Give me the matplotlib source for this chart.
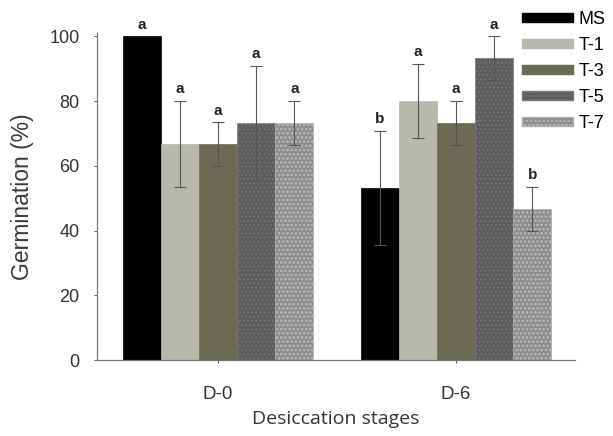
import numpy as np
import matplotlib.pyplot as plt
from matplotlib.patches import Patch

# Germination data per desiccation stage
stages = ["D-0", "D-6"]
treatments = ["MS", "T-1", "T-3", "T-5", "T-7"]
mean_d0 = [100.0, 66.7, 66.7, 73.3, 73.3]
mean_d6 = [53.3, 80.0, 73.3, 93.3, 46.7]
err_d0 = [0.0, 13.3, 6.7, 17.6, 6.7]
err_d6 = [17.6, 11.5, 6.7, 6.7, 6.7]
letters_d0 = ["a", "a", "a", "a", "a"]
letters_d6 = ["b", "a", "a", "a", "b"]

colors = ["#000000", "#b9b8ad", "#6a6b52", "#5e5e60", "#8c8c8c"]
hatches = [None, None, None, "....", "oooo"]
hatch_cols = [None, None, None, "#7a7a7c", "#b0b0b0"]

plt.rcParams['font.family'] = ['Liberation Sans', 'DejaVu Sans']
plt.rcParams['hatch.linewidth'] = 0.6

fig = plt.figure(figsize=(6.13, 4.36), dpi=100)
ax = fig.add_axes([0.158, 0.174, 0.78, 0.75])

x = np.arange(len(stages))
w = 0.16
means = np.array([mean_d0, mean_d6])
errs = np.array([err_d0, err_d6])
letters = [letters_d0, letters_d6]

for i, t in enumerate(treatments):
    xs = x + (i - 2) * w
    bars = ax.bar(xs, means[:, i], w, color=colors[i], edgecolor=colors[i],
                  linewidth=0.5, label=t, zorder=2)
    if hatches[i]:
        for b in bars:
            b.set_hatch(hatches[i])
            b.set_edgecolor(hatch_cols[i])
    for j in range(len(stages)):
        e = errs[j, i]
        if e > 0:
            ax.errorbar(xs[j], means[j, i], yerr=e, fmt='none', ecolor='#555555',
                        elinewidth=0.8, capsize=4.5, capthick=0.8, zorder=3)
        ax.text(xs[j], means[j, i] + e + 1.5, letters[j][i], ha='center',
                va='bottom', fontsize=11, fontweight='bold', color='#222222')

ax.set_xlim(-0.51, 1.5)
ax.set_ylim(0, 101)
ax.set_yticks([0, 20, 40, 60, 80, 100])
ax.set_xticks(x)
ax.set_xticklabels(stages)
ax.tick_params(axis='both', colors='#333333', length=2.5, width=0.6)
ax.tick_params(axis='y', labelsize=13, pad=10)
ax.tick_params(axis='x', labelsize=13.5, pad=16)
for s in ['top', 'right']:
    ax.spines[s].set_visible(False)
for s in ['left', 'bottom']:
    ax.spines[s].set_color('#777777')
    ax.spines[s].set_linewidth(0.9)

ax.set_ylabel("Germination (%)", fontsize=16.5, color='#3a3a3a', labelpad=11)
ax.set_xlabel("Desiccation stages", fontsize=14, color='#333333',
              family=['Open Sans', 'DejaVu Sans'], labelpad=5)

handles = []
for i, t in enumerate(treatments):
    p = Patch(facecolor=colors[i], edgecolor=colors[i] if not hatches[i] else hatch_cols[i],
              hatch=hatches[i], label=t)
    handles.append(p)
fig.legend(handles=handles, loc='upper left', bbox_to_anchor=(0.8515, 0.975),
           frameon=False, fontsize=13, handlelength=2.8, handleheight=0.4,
           labelspacing=0.5, handletextpad=0.35, borderpad=0, borderaxespad=0)

fig.savefig("out.png", dpi=100)
